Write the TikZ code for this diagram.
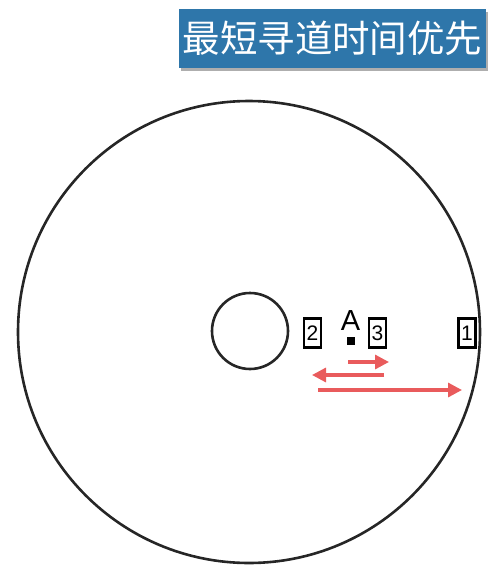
\documentclass[tikz,border=0pt]{standalone}
\usepackage{fontspec}
\setmainfont{Liberation Sans}
\newfontfamily\cjk{Noto Sans CJK SC}
\usetikzlibrary{shadows,arrows.meta}
\definecolor{titleblue}{HTML}{2E76AA}
\definecolor{arrowred}{HTML}{E95B5C}
\tikzset{
  disc/.style={draw=black!85, line width=2.6pt, circle, inner sep=0pt},
  trackbox/.style={draw=black, line width=2.2pt, minimum width=17pt, minimum height=29pt, inner sep=0pt, font=\fontsize{21pt}{21pt}\selectfont, fill=white},
  seek/.style={draw=arrowred, line width=3.2pt, -{Triangle[length=14pt,width=14pt]}},
}
\begin{document}
\begin{tikzpicture}[x=1pt,y=-1pt]
\useasboundingbox (0,0) rectangle (502,574);
\node[fill=titleblue, minimum width=307pt, minimum height=59pt, inner sep=0pt,
  drop shadow={shadow xshift=1.5pt, shadow yshift=-3pt, fill=black!45, opacity=0.7},
  text=white, font=\cjk\fontsize{37.5pt}{37.5pt}\selectfont] (title) at (332.5,38.5) {最短寻道时间优先};
\node[disc, minimum size=462pt] (outer) at (249,332) {};
\node[disc, minimum size=76pt] (inner) at (250,331) {};
\node[trackbox] (t2) at (312.5,333) {2};
\node[trackbox] (t3) at (377.5,333) {3};
\node[trackbox] (t1) at (467,333) {1};
\node[font=\fontsize{29pt}{29pt}\selectfont, inner sep=0pt] (A) at (350.5,321) {A};
\node[fill=black, minimum size=8.5pt, inner sep=0pt] (head) at (351,341) {};
\coordinate (a1s) at (348,362); \coordinate (a1e) at (389,362);
\coordinate (a2s) at (384,375); \coordinate (a2e) at (312,375);
\coordinate (a3s) at (318,390); \coordinate (a3e) at (462,390);
\draw[seek] (a1s) -- (a1e);
\draw[seek] (a2s) -- (a2e);
\draw[seek] (a3s) -- (a3e);
\end{tikzpicture}
\end{document}
